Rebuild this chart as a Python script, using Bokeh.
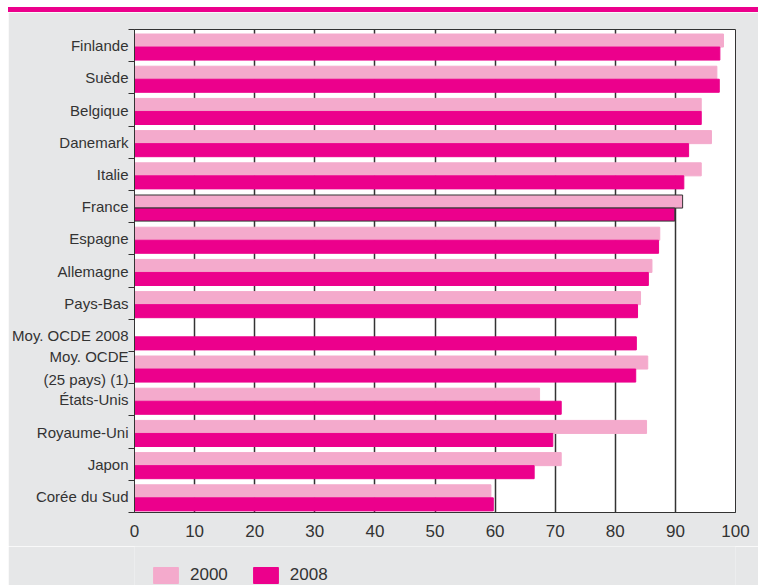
from bokeh.plotting import figure
from bokeh.models import (FixedTicker, ColumnDataSource, Legend, LegendItem, Div, Range1d)
from bokeh.layouts import column
from bokeh.embed import file_html
from bokeh.resources import INLINE

# ---- data ----
countries = ["Finlande", "Suède", "Belgique", "Danemark", "Italie", "France",
             "Espagne", "Allemagne", "Pays-Bas", "Moy. OCDE 2008",
             "Moy. OCDE\n(25 pays) (1)", "États-Unis", "Royaume-Uni", "Japon",
             "Corée du Sud"]
v2000 = [98.0, 96.9, 94.3, 96.0, 94.3, 91.2, 87.4, 86.1, 84.2, None, 85.4,
         67.4, 85.2, 71.0, 59.3]
v2008 = [97.4, 97.3, 94.3, 92.2, 91.4, 89.9, 87.2, 85.5, 83.7, 83.5, 83.4,
         71.0, 69.6, 66.5, 59.7]
x_ticks = [0, 10, 20, 30, 40, 50, 60, 70, 80, 90, 100]
series_labels = ["2000", "2008"]
highlight = "France"

PINK = "#f4aacc"
MAGENTA = "#ec008c"
GREY_BG = "#e6e7e8"
DARK = "#333333"
FONT = "Liberation Sans"

n = len(countries)
row_top = [n - i for i in range(n)]

src0 = ColumnDataSource(dict(
    y=[t - 0.3425 for t, v in zip(row_top, v2000) if v is not None],
    right=[v for v in v2000 if v is not None],
    lc=[DARK if c == highlight else PINK for c, v in zip(countries, v2000) if v is not None],
))
src1 = ColumnDataSource(dict(
    y=[t - 0.7475 for t in row_top],
    right=v2008,
    lc=[DARK if c == highlight else MAGENTA for c in countries],
))

p = figure(width=750, height=534, x_range=Range1d(0, 100), y_range=Range1d(0, n),
           output_backend="svg", toolbar_location=None,
           min_border_left=126, min_border_right=23, min_border_top=17,
           min_border_bottom=34, margin=(0, 0, 0, 8))
p.background_fill_color = "white"
p.border_fill_color = GREY_BG
p.outline_line_color = DARK
p.outline_line_width = 1

p.hbar(y="y", left=0, right="right", height=0.405, source=src0,
       fill_color=PINK, line_color="lc", line_width=1)
p.hbar(y="y", left=0, right="right", height=0.405, source=src1,
       fill_color=MAGENTA, line_color="lc", line_width=1)

# x axis
p.xaxis.ticker = FixedTicker(ticks=x_ticks)
p.xaxis.major_tick_out = 0
p.xaxis.major_tick_in = 0
p.xaxis.minor_tick_out = 0
p.xaxis.axis_line_color = DARK
p.xaxis.major_label_standoff = 12
p.xaxis.major_label_text_font = FONT
p.xaxis.major_label_text_font_size = "17px"
p.xaxis.major_label_text_color = DARK
p.xgrid.grid_line_color = DARK
p.xgrid.grid_line_width = 1.5
p.ygrid.grid_line_color = None

# y axis: labels at row centres, ticks at row boundaries
centres = [t - 0.5 for t in row_top]
p.yaxis.ticker = FixedTicker(ticks=centres, minor_ticks=list(range(0, n + 1)))
p.yaxis.major_label_overrides = {c: name for c, name in zip(centres, countries)}
p.yaxis.major_tick_out = 0
p.yaxis.major_tick_in = 0
p.yaxis.minor_tick_out = 6
p.yaxis.minor_tick_in = 0
p.yaxis.minor_tick_line_color = DARK
p.yaxis.axis_line_color = DARK
p.yaxis.major_label_standoff = 0
p.yaxis.major_label_text_font = FONT
p.yaxis.major_label_text_font_size = "15px"
p.yaxis.major_label_text_color = DARK
p.yaxis.major_label_text_line_height = 1.35

# ---- legend strip (separate small figure, same sources kept out of view) ----
p2 = figure(width=750, height=39, x_range=Range1d(0, 100), y_range=Range1d(1000, 1001),
            output_backend="svg", toolbar_location=None,
            x_axis_location=None, y_axis_location=None,
            min_border=0, margin=(0, 0, 0, 8))
p2.background_fill_color = GREY_BG
p2.border_fill_color = GREY_BG
p2.outline_line_color = None
p2.grid.grid_line_color = None
l0 = p2.hbar(y="y", left=0, right="right", height=0.405, source=src0,
             fill_color=PINK, line_color=PINK)
l1 = p2.hbar(y="y", left=0, right="right", height=0.405, source=src1,
             fill_color=MAGENTA, line_color=MAGENTA)
legend = Legend(items=[LegendItem(label=series_labels[0], renderers=[l0]),
                       LegendItem(label=series_labels[1], renderers=[l1])],
                location=(16, 0), orientation="horizontal",
                glyph_width=31, glyph_height=20, label_standoff=9, spacing=22,
                padding=0, margin=0, border_line_color=None,
                background_fill_alpha=0, label_text_font=FONT,
                label_text_font_size="17px", label_text_color=DARK)
p2.add_layout(legend, "center")

band = Div(text="", width=750, height=5, margin=(7, 0, 0, 8),
           styles={"background-color": MAGENTA})
layout = column(band, p, p2, spacing=0)

open("out.html", "w").write(file_html(layout, INLINE))
